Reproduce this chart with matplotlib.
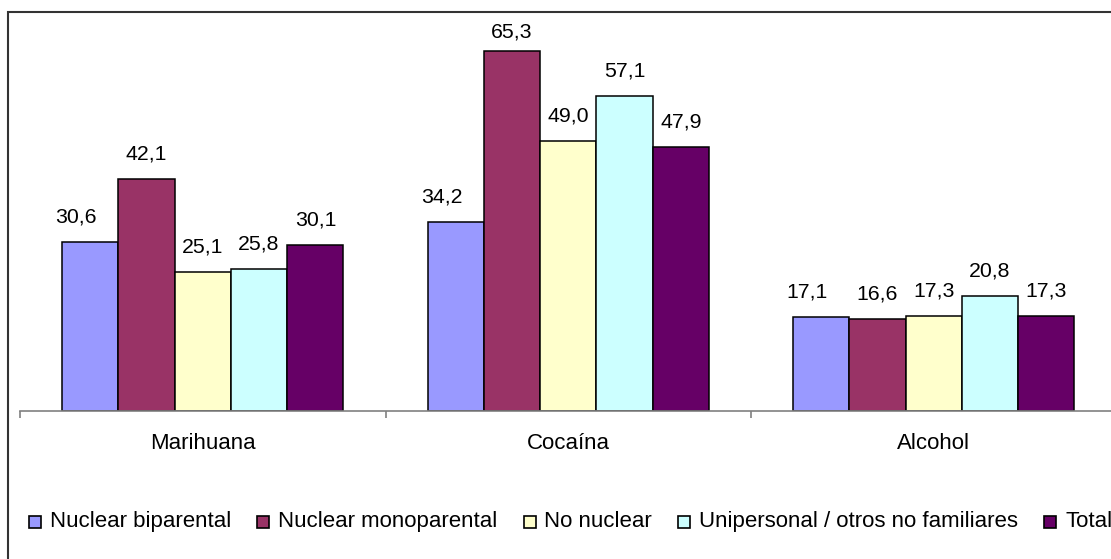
import matplotlib
matplotlib.use("Agg")
import matplotlib.pyplot as plt
from matplotlib.patches import Rectangle
import numpy as np

plt.rcParams['font.family'] = ['Liberation Sans', 'DejaVu Sans']

categories = ["Marihuana", "Cocaína", "Alcohol"]
series_names = ["Nuclear biparental", "Nuclear monoparental", "No nuclear",
                "Unipersonal / otros no familiares", "Total"]
nuclear_biparental = [30.6, 34.2, 17.1]
nuclear_monoparental = [42.1, 65.3, 16.6]
no_nuclear = [25.1, 49.0, 17.3]
unipersonal = [25.8, 57.1, 20.8]
total = [30.1, 47.9, 17.3]
series_values = [nuclear_biparental, nuclear_monoparental, no_nuclear, unipersonal, total]
colors = ["#9999FF", "#993366", "#FFFFCC", "#CCFFFF", "#660066"]

W, H = 1111, 559
fig = plt.figure(figsize=(W / 100, H / 100), dpi=100)

# chart area frame
fig.patches.append(Rectangle((8 / W, -0.05), 1.2, (H - 12) / H + 0.05,
                             transform=fig.transFigure, fill=False,
                             edgecolor="#333333", linewidth=1.5, zorder=0))

px_per_unit = 5.52
ymax = 70
base_y = 411
ax = fig.add_axes([20 / W, (H - base_y) / H, 1096.5 / W, ymax * px_per_unit / H])
ax.patch.set_visible(False)

x = np.arange(len(categories))
bw = 0.154
fs_val = 15.3
fs_txt = 16
label_gap = 19.5 / px_per_unit          # gap between bar top and label baseline
label_ceiling = (base_y - 38) / px_per_unit  # labels are kept inside the plot area
# first-series labels sit nudged left of their bars
label_dx = [-14, 0, 0, 0, 0]
for i, (name, vals, c) in enumerate(zip(series_names, series_values, colors)):
    pos = x + (i - 2) * bw
    ax.bar(pos, vals, width=bw, color=c, edgecolor="black", linewidth=1.1,
           label=name, zorder=2)
    for xp, v in zip(pos, vals):
        ax.annotate(f"{v:.1f}".replace(".", ","),
                    (xp, min(v + label_gap, label_ceiling)),
                    xytext=(label_dx[i] * 0.72, 0),
                    textcoords="offset points", ha="center", va="baseline",
                    fontsize=fs_val)

ax.set_xlim(-0.5, 2.5)
ax.set_ylim(0, ymax)
for s in ["top", "right", "left"]:
    ax.spines[s].set_visible(False)
ax.spines["bottom"].set_color("#808080")
ax.spines["bottom"].set_linewidth(1.2)
ax.set_yticks([])
ax.set_xticks([-0.5, 0.5, 1.5, 2.5])
ax.set_xticklabels([])
ax.tick_params(axis="x", which="major", length=5, color="#808080", width=1.2)
ax.set_xticks(x, minor=True)
ax.set_xticklabels(categories, minor=True, fontsize=fs_txt)
ax.tick_params(axis="x", which="minor", length=0, pad=16)

# legend row: square swatch followed by its label, all on one baseline
renderer = fig.canvas.get_renderer()
cur_x = 29
baseline = 527
box = 12
for name, c in zip(series_names, colors):
    fig.patches.append(Rectangle((cur_x / W, (H - baseline - 1) / H),
                                 box / W, box / H, transform=fig.transFigure,
                                 facecolor=c, edgecolor="black", linewidth=1.2))
    t = fig.text((cur_x + box + 9) / W, (H - baseline) / H, name,
                 fontsize=fs_txt, ha="left", va="baseline")
    w = t.get_window_extent(renderer=renderer).width
    cur_x += box + 9 + w + 26

fig.savefig("out.png", dpi=100)
